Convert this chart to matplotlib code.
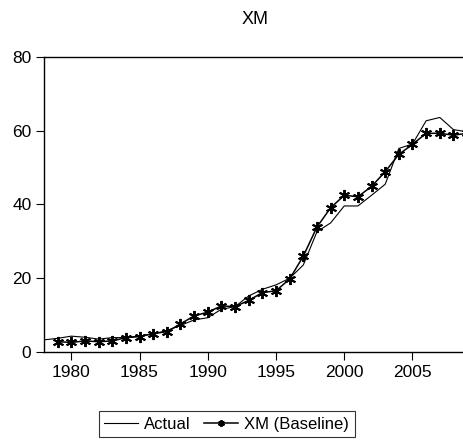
import matplotlib.pyplot as plt
import numpy as np

plt.rcParams['font.family'] = ['Liberation Sans', 'DejaVu Sans']

# dados
anos_actual = np.arange(1978, 2010)
actual = [3.3, 3.7, 4.3, 4.0, 3.5, 3.9, 3.9, 4.3, 4.9, 5.8, 7.2, 8.7, 9.3, 11.6,
          12.3, 15.2, 17.0, 18.2, 20.0, 23.6, 32.6, 35.0, 39.6, 39.6, 42.5, 45.5,
          55.2, 56.4, 62.7, 63.6, 60.3, 59.7]

anos_base = np.arange(1979, 2010)
baseline = [2.8, 2.6, 3.0, 2.8, 3.0, 3.9, 4.2, 5.0, 5.5, 7.6, 9.8, 10.8, 12.5,
            12.3, 14.0, 16.1, 16.6, 19.8, 26.0, 33.9, 39.1, 42.5, 42.1, 44.9,
            48.9, 53.6, 56.3, 59.3, 59.3, 58.8, 59.3]

fig = plt.figure(figsize=(4.63, 4.41), dpi=100)
ax = fig.add_axes([0.095, 0.2018, 0.905, 0.669])

ax.plot(anos_actual, actual, color='black', linewidth=0.8, label='Actual')
ax.plot(anos_base, baseline, color='black', linewidth=1.1, marker=(6, 2, 0),
        markersize=8, markeredgewidth=1.4, label='XM (Baseline)')

ax.set_xlim(1978, 2008.7)
ax.set_ylim(0, 80)
ax.set_xticks([1980, 1985, 1990, 1995, 2000, 2005])
ax.set_yticks([0, 20, 40, 60, 80])
ax.tick_params(direction='out', length=6, width=0.8, labelsize=12.5, pad=3)
ax.spines['right'].set_visible(False)
for s in ['left', 'bottom', 'top']:
    ax.spines[s].set_linewidth(1.0)

fig.text(0.55, 0.955, 'XM', ha='center', va='center', fontsize=13)

leg = fig.legend(loc='center', bbox_to_anchor=(0.49, 0.0385), ncol=2,
                 fontsize=12, frameon=True, fancybox=False, edgecolor='black',
                 handlelength=2.0, columnspacing=0.8, handletextpad=0.4,
                 borderpad=0.35, markerscale=0.6)
leg.get_frame().set_linewidth(0.8)

plt.savefig('out.png', dpi=100)
